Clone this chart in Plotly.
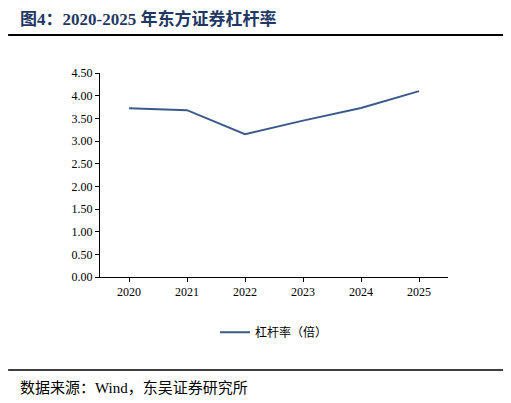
import plotly.graph_objects as go

years = ["2020", "2021", "2022", "2023", "2024", "2025"]
leverage = [3.72, 3.68, 3.15, 3.45, 3.73, 4.10]
series_name = "杠杆率（倍）"

fig = go.Figure()
fig.add_trace(go.Scatter(x=years, y=leverage, mode="lines", name=series_name,
                         line=dict(color="#3b5a8c", width=2)))

fig.update_layout(
    width=511, height=403, paper_bgcolor="white", plot_bgcolor="white",
    margin=dict(l=92, r=71, t=65, b=134),
    font=dict(family="Liberation Serif, Noto Sans CJK SC", size=12, color="black"),
    showlegend=True,
    legend=dict(orientation="h", x=0.5, xanchor="center", y=-0.2, yanchor="top",
                font=dict(size=12, family="Noto Sans CJK SC")),
    xaxis=dict(showline=True, linecolor="black", ticks="outside", ticklen=4,
               tickcolor="black", showgrid=False, range=[-0.5, 5.5]),
    yaxis=dict(range=[0, 4.5], dtick=0.5, tickformat=".2f", showline=True,
               linecolor="black", ticks="outside", ticklen=4, tickcolor="black",
               showgrid=False),
    annotations=[
        dict(text="<b>图4：2020-2025 年东方证券杠杆率</b>", xref="paper", yref="paper",
             x=-0.236, y=1.265, xanchor="left", yanchor="middle", showarrow=False,
             font=dict(size=17, color="#1f3864", family="Liberation Serif, Noto Sans CJK SC")),
        dict(text="数据来源：Wind，东吴证券研究所", xref="paper", yref="paper",
             x=-0.236, y=-0.544, xanchor="left", yanchor="middle", showarrow=False,
             font=dict(size=15, color="black", family="Liberation Serif, Noto Sans CJK SC")),
    ],
    shapes=[
        dict(type="line", xref="paper", yref="paper", x0=-0.264, x1=1.158, y0=1.186, y1=1.186,
             line=dict(color="black", width=2)),
        dict(type="line", xref="paper", yref="paper", x0=-0.264, x1=1.158, y0=-0.456, y1=-0.456,
             line=dict(color="black", width=1.5)),
    ],
)

fig.write_html("out.html")
